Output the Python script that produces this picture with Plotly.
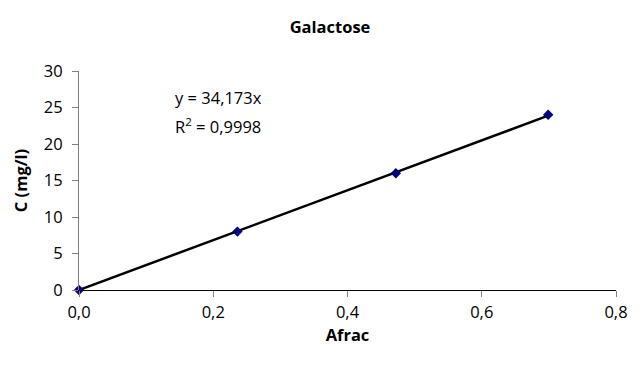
import plotly.graph_objects as go

# Calibration data: absorbance fraction vs. concentration
afrac = [0.0, 0.236, 0.472, 0.699]
conc = [0.0, 8.0, 16.0, 24.0]
slope = 34.173
r_squared = 0.9998

x_ticks = [0.0, 0.2, 0.4, 0.6, 0.8]
y_ticks = [0, 5, 10, 15, 20, 25, 30]

font_family = "Open Sans, Liberation Sans, sans-serif"

# Linear trendline through the origin
fit_x = [afrac[0], afrac[-1]]
fit_y = [slope * v for v in fit_x]

fig = go.Figure()
fig.add_trace(go.Scatter(
    x=fit_x, y=fit_y, mode="lines",
    line=dict(color="black", width=2.5),
    showlegend=False, hoverinfo="skip",
))
fig.add_trace(go.Scatter(
    x=afrac, y=conc, mode="markers",
    marker=dict(symbol="diamond", size=8, color="#000080"),
    showlegend=False, cliponaxis=False,
))

eq_text = "y = " + f"{slope:.3f}".replace(".", ",") + "x"
r2_text = "R<sup>2</sup> = " + f"{r_squared:.4f}".replace(".", ",")

fig.add_annotation(
    x=0.14, y=26.4, xref="x", yref="y", xanchor="left", yanchor="middle",
    text=eq_text, showarrow=False,
    font=dict(family=font_family, size=16.5, color="black"),
)
fig.add_annotation(
    x=0.14, y=22.5, xref="x", yref="y", xanchor="left", yanchor="middle",
    text=r2_text, showarrow=False,
    font=dict(family=font_family, size=16.5, color="black"),
)

fig.update_layout(
    width=640, height=374,
    margin=dict(l=79, r=15, t=71, b=84),
    paper_bgcolor="white", plot_bgcolor="white",
    separators=", ",
    font=dict(family=font_family, size=16.5, color="black"),
    title=dict(
        text="<b>Galactose</b>", x=330 / 640, xanchor="center",
        y=1 - 27 / 374, yanchor="middle",
        font=dict(family=font_family, size=16.5, color="black"),
    ),
)
fig.update_xaxes(
    range=[0, 0.8], tickvals=x_ticks, tickformat=".1f",
    showgrid=False, zeroline=False,
    showline=True, linecolor="black", linewidth=1,
    ticks="outside", ticklen=6, tickcolor="#808080",
    ticklabelstandoff=1,
    title=dict(text="<b>Afrac</b>", font=dict(size=16.5), standoff=6),
)
fig.update_yaxes(
    range=[0, 30], tickvals=y_ticks,
    showgrid=False, zeroline=False,
    showline=True, linecolor="#808080", linewidth=1,
    ticks="outside", ticklen=6, tickcolor="#808080",
    ticklabelstandoff=6,
    title=dict(text="<b>C (mg/l)</b>", font=dict(size=16.5), standoff=12),
)

fig.write_html("out.html")
